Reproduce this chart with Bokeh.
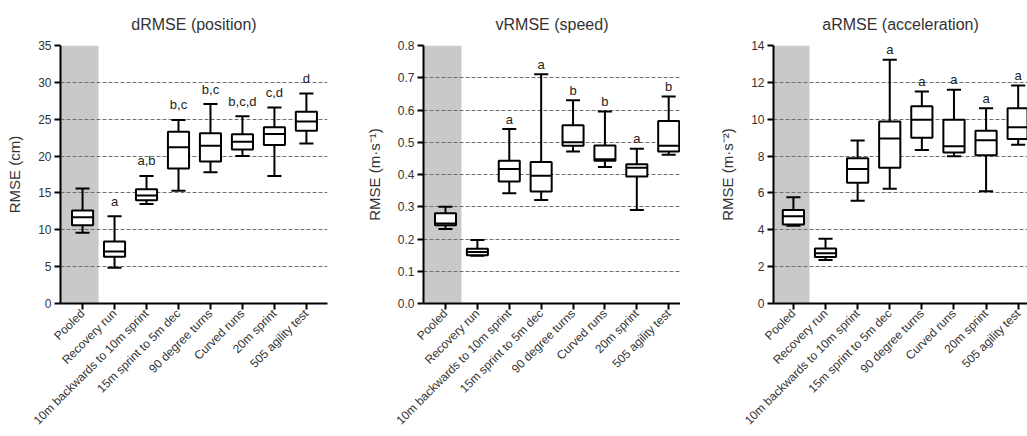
import math
import numpy as np
from bokeh.plotting import figure
from bokeh.layouts import row
from bokeh.models import Range1d, FixedTicker, BoxAnnotation, ColumnDataSource
from bokeh.embed import file_html
from bokeh.resources import INLINE
from bokeh.core.properties import value

categories = ["Pooled", "Recovery run", "10m backwards to 10m sprint",
              "15m sprint to 5m dec", "90 degree turns", "Curved runs",
              "20m sprint", "505 agility test"]

# dRMSE (position), cm
d_low = [9.6, 4.85, 13.5, 15.3, 17.8, 20.0, 17.3, 21.7]
d_q1 = [10.6, 6.35, 14.0, 18.3, 19.25, 20.9, 21.5, 23.45]
d_med = [11.7, 7.05, 14.65, 21.2, 21.4, 21.95, 23.0, 24.7]
d_q3 = [12.6, 8.4, 15.5, 23.3, 23.1, 22.95, 23.9, 26.0]
d_high = [15.6, 11.85, 17.3, 24.9, 27.05, 25.4, 26.6, 28.5]
d_letters = ["", "a", "a,b", "b,c", "b,c", "b,c,d", "c,d", "d"]
d_ticks = [0, 5, 10, 15, 20, 25, 30, 35]

# vRMSE (speed), m/s
v_low = [0.231, 0.148, 0.342, 0.321, 0.471, 0.423, 0.290, 0.461]
v_q1 = [0.243, 0.150, 0.378, 0.347, 0.489, 0.443, 0.394, 0.471]
v_med = [0.248, 0.160, 0.417, 0.396, 0.500, 0.447, 0.421, 0.489]
v_q3 = [0.280, 0.170, 0.443, 0.439, 0.553, 0.490, 0.432, 0.566]
v_high = [0.300, 0.197, 0.541, 0.711, 0.630, 0.595, 0.480, 0.642]
v_letters = ["", "", "a", "a", "b", "b", "a", "b"]
v_ticks = [0.0, 0.1, 0.2, 0.3, 0.4, 0.5, 0.6, 0.7, 0.8]

# aRMSE (acceleration), m/s^2
a_low = [4.22, 2.36, 5.57, 6.22, 8.33, 7.99, 6.09, 8.62]
a_q1 = [4.29, 2.52, 6.55, 7.36, 9.00, 8.20, 8.04, 8.93]
a_med = [4.74, 2.72, 7.30, 8.96, 9.97, 8.53, 8.86, 9.56]
a_q3 = [5.07, 2.99, 7.88, 9.87, 10.71, 9.97, 9.38, 10.60]
a_high = [5.77, 3.51, 8.84, 13.22, 11.50, 11.60, 10.60, 11.83]
a_letters = ["", "", "", "a", "a", "a", "a", "a"]
a_ticks = [0, 2, 4, 6, 8, 10, 12, 14]

FONT = "Liberation Sans"
TOP = 45
BOTTOM = 133
HEIGHT = 436


def make_panel(title, ylabel, low, q1, med, q3, high, letters, yticks, fmt,
               xstart, xend, width, left, right, pad_px, label_standoff):
    ymax = yticks[-1]
    p = figure(width=width, height=HEIGHT,
               x_range=Range1d(xstart, xend), y_range=Range1d(0, ymax),
               min_border_left=left, min_border_right=right,
               min_border_top=TOP, min_border_bottom=BOTTOM,
               output_backend="svg", toolbar_location=None,
               outline_line_color=None, background_fill_color="white")
    p.title.text = title
    p.title.align = "center"
    p.title.vertical_align = "top"
    p.title.text_font = FONT
    p.title.text_font_size = "16px"
    p.title.text_font_style = "normal"
    p.title.text_color = "#333333"
    p.title.standoff = 22

    frame_h = HEIGHT - TOP - BOTTOM
    px = ymax / frame_h  # data units per screen pixel (vertical)

    band = BoxAnnotation(left=xstart, right=0.5, fill_color="#c9c9c9",
                         fill_alpha=1.0, line_color=None, level="image")
    p.add_layout(band)

    x = np.arange(len(categories), dtype=float)
    hw = 0.33
    cw = 0.22
    src = ColumnDataSource(dict(
        x=x, low=low, q1=q1, med=med, q3=q3, high=high,
        xl=x - hw, xr=x + hw, cl=x - cw, cr=x + cw,
        ty=np.array(high) + pad_px * px, letters=letters))

    p.segment(x0="x", y0="low", x1="x", y1="high", source=src,
              line_color="black", line_width=2)
    p.vbar(x="x", width=2 * hw, bottom="q1", top="q3", source=src,
           fill_color="white", line_color="black", line_width=2)
    p.segment(x0="xl", y0="med", x1="xr", y1="med", source=src,
              line_color="black", line_width=2)
    p.segment(x0="cl", y0="high", x1="cr", y1="high", source=src,
              line_color="black", line_width=2)
    p.segment(x0="cl", y0="low", x1="cr", y1="low", source=src,
              line_color="black", line_width=2)
    p.text(x="x", y="ty", text="letters", source=src,
           text_align="center", text_baseline="alphabetic",
           text_font=value(FONT), text_font_size="13px",
           text_color="#222222")

    p.xgrid.visible = False
    p.ygrid.ticker = FixedTicker(ticks=yticks)
    p.ygrid.grid_line_color = "#707070"
    p.ygrid.grid_line_dash = "4 2"
    p.ygrid.grid_line_width = 1

    p.yaxis.ticker = FixedTicker(ticks=yticks)
    p.yaxis.major_label_overrides = {t: fmt.format(t) for t in yticks}
    p.yaxis.axis_label = ylabel
    p.yaxis.axis_label_text_font = FONT
    p.yaxis.axis_label_text_font_size = "15px"
    p.yaxis.axis_label_text_font_style = "normal"
    p.yaxis.axis_label_text_color = "#333333"
    p.yaxis.axis_label_standoff = label_standoff

    p.xaxis.ticker = FixedTicker(ticks=list(range(len(categories))))
    p.xaxis.major_label_overrides = {i: c for i, c in enumerate(categories)}
    p.xaxis.major_label_orientation = math.pi / 4

    for ax in (p.xaxis, p.yaxis):
        ax.axis_line_width = 2
        ax.axis_line_color = "black"
        ax.major_tick_line_width = 2
        ax.major_tick_line_color = "black"
        ax.major_tick_out = 6
        ax.major_tick_in = 0
        ax.minor_tick_line_color = None
        ax.major_label_text_font = FONT
        ax.major_label_text_color = "#333333"
    p.xaxis.major_label_standoff = 2
    p.yaxis.major_label_standoff = 3
    p.xaxis.major_label_text_font_size = "12px"
    p.yaxis.major_label_text_font_size = "12px"
    return p


p1 = make_panel("dRMSE (position)", "RMSE (cm)",
                d_low, d_q1, d_med, d_q3, d_high, d_letters, d_ticks, "{:g}",
                -0.69, 7.66, 340, 60, 13, 15, 12)
p2 = make_panel("vRMSE (speed)", "RMSE (m·s⁻¹)",
                v_low, v_q1, v_med, v_q3, v_high, v_letters, v_ticks, "{:.1f}",
                -0.69, 7.37, 340, 83, 0, 10, 12)
p3 = make_panel("aRMSE (acceleration)", "RMSE (m·s⁻²)",
                a_low, a_q1, a_med, a_q3, a_high, a_letters, a_ticks, "{:g}",
                -0.62, 7.29, 347, 93, 0, 10, 12)

layout = row(p1, p2, p3)
open("out.html", "w").write(file_html(layout, INLINE))
